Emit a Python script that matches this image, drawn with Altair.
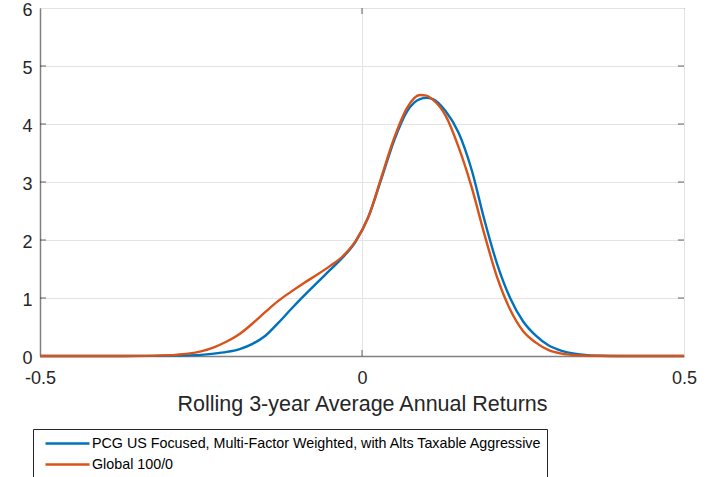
import altair as alt
import pandas as pd

# Kernel density estimates of rolling 3-year average annual returns
pcg_name = "PCG US Focused, Multi-Factor Weighted, with Alts Taxable Aggressive"
glb_name = "Global 100/0"

pcg_x = [-0.50, -0.40, -0.33, -0.29, -0.25, -0.23, -0.21, -0.19, -0.17, -0.15,
         -0.13, -0.11, -0.09, -0.07, -0.05, -0.03, -0.01, 0.01, 0.03, 0.05,
         0.07, 0.09, 0.10, 0.11, 0.13, 0.15, 0.17, 0.19, 0.21, 0.23,
         0.25, 0.27, 0.29, 0.31, 0.33, 0.35, 0.37, 0.40, 0.50]
pcg_y = [0.0, 0.0, 0.002, 0.008, 0.02, 0.04, 0.07, 0.12, 0.21, 0.35,
         0.57, 0.81, 1.04, 1.26, 1.48, 1.70, 1.97, 2.40, 3.05, 3.72,
         4.22, 4.43, 4.45, 4.43, 4.22, 3.85, 3.22, 2.35, 1.58, 1.00,
         0.60, 0.35, 0.18, 0.09, 0.04, 0.015, 0.005, 0.0, 0.0]

glb_x = [-0.50, -0.40, -0.35, -0.31, -0.29, -0.27, -0.25, -0.23, -0.21, -0.19,
         -0.17, -0.15, -0.13, -0.11, -0.09, -0.07, -0.05, -0.03, -0.01, 0.01,
         0.03, 0.05, 0.07, 0.09, 0.10, 0.11, 0.13, 0.15, 0.17, 0.19,
         0.21, 0.23, 0.25, 0.27, 0.29, 0.31, 0.33, 0.35, 0.40, 0.50]
glb_y = [0.0, 0.0, 0.002, 0.01, 0.02, 0.04, 0.08, 0.15, 0.25, 0.38,
         0.56, 0.76, 0.95, 1.11, 1.26, 1.40, 1.55, 1.72, 1.98, 2.40,
         3.08, 3.76, 4.28, 4.50, 4.49, 4.42, 4.14, 3.60, 2.92, 2.10,
         1.35, 0.80, 0.43, 0.23, 0.10, 0.04, 0.015, 0.005, 0.0, 0.0]

x_ticks = [-0.5, 0, 0.5]
y_ticks = [0, 1, 2, 3, 4, 5, 6]

series_names = [pcg_name, glb_name]
series_colors = ["#0072BD", "#D95319"]

pcg = pd.DataFrame({"ret": pcg_x, "density": pcg_y, "series": pcg_name})
glb = pd.DataFrame({"ret": glb_x, "density": glb_y, "series": glb_name})

W, H = 644, 348
FONT = "Liberation Sans"

x_scale = alt.Scale(domain=[-0.5, 0.5], nice=False, zero=False)
y_scale = alt.Scale(domain=[0, 6], nice=False)

color = alt.Color(
    "series:N",
    scale=alt.Scale(domain=series_names, range=series_colors),
    legend=alt.Legend(
        title=None,
        orient="none",
        legendX=-7,
        legendY=421,
        direction="vertical",
        symbolType="stroke",
        symbolSize=1936,
        symbolStrokeWidth=2.5,
        symbolOffset=7,
        labelFontSize=14.3,
        labelFont=FONT,
        labelColor="#000000",
        labelOffset=1,
        labelLimit=600,
        clipHeight=21,
        rowPadding=0,
        padding=4,
        strokeColor="#262626",
        fillColor="#ffffff",
    ),
)

x_enc = alt.X(
    "ret:Q",
    scale=x_scale,
    axis=alt.Axis(
        title="Rolling 3-year Average Annual Returns",
        values=x_ticks,
        labelExpr="toString(datum.value)",
        labelFlush=False,
        grid=True,
        domain=True,
        domainColor="#808080",
        domainWidth=1.5,
        ticks=False,
        labelPadding=13,
        labelFontSize=18,
        titleFontSize=21.5,
        titlePadding=6,
        titleFontWeight="normal",
    ),
)
y_enc = alt.Y(
    "density:Q",
    scale=y_scale,
    axis=alt.Axis(
        title=None,
        values=y_ticks,
        labelExpr="toString(datum.value)",
        labelFlush=False,
        labelOffset=2,
        grid=True,
        domain=True,
        domainColor="#808080",
        domainWidth=1.5,
        ticks=False,
        labelPadding=8,
        labelFontSize=18,
    ),
)

blue = alt.Chart(pcg).mark_line(strokeWidth=2.4, interpolate="monotone").encode(
    x=x_enc, y=y_enc, color=color
)
orange = alt.Chart(glb).mark_line(strokeWidth=2.4, interpolate="monotone").encode(
    x=alt.X("ret:Q", scale=x_scale), y=alt.Y("density:Q", scale=y_scale), color=color
)

# short inward tick marks on all four sides of the box
ytk = pd.DataFrame({"v": y_ticks[1:-1]})
xtk = pd.DataFrame({"v": x_ticks[1:-1]})
tick_style = dict(color="#262626", thickness=1, size=6)
left_ticks = alt.Chart(ytk).mark_tick(**tick_style).encode(
    y=alt.Y("v:Q", scale=y_scale), x=alt.value(3)
)
right_ticks = alt.Chart(ytk).mark_tick(**tick_style).encode(
    y=alt.Y("v:Q", scale=y_scale), x=alt.value(W - 3)
)
bottom_ticks = alt.Chart(xtk).mark_tick(**tick_style).encode(
    x=alt.X("v:Q", scale=x_scale), y=alt.value(H - 3)
)
top_ticks = alt.Chart(xtk).mark_tick(**tick_style).encode(
    x=alt.X("v:Q", scale=x_scale), y=alt.value(3)
)

chart = (
    alt.layer(blue, orange, left_ticks, right_ticks, bottom_ticks, top_ticks)
    .properties(
        width=W,
        height=H,
        autosize=alt.AutoSizeParams(type="none"),
        padding={"left": 40, "top": 8, "right": 26, "bottom": 130},
        background="#ffffff",
    )
    .configure_view(stroke="#262626", strokeWidth=1)
    .configure_axis(
        labelFont=FONT,
        titleFont=FONT,
        labelColor="#262626",
        titleColor="#262626",
        gridColor="#e3e3e3",
        gridWidth=1,
    )
)

chart.save("out.html", embed_options={"renderer": "svg", "actions": False})
